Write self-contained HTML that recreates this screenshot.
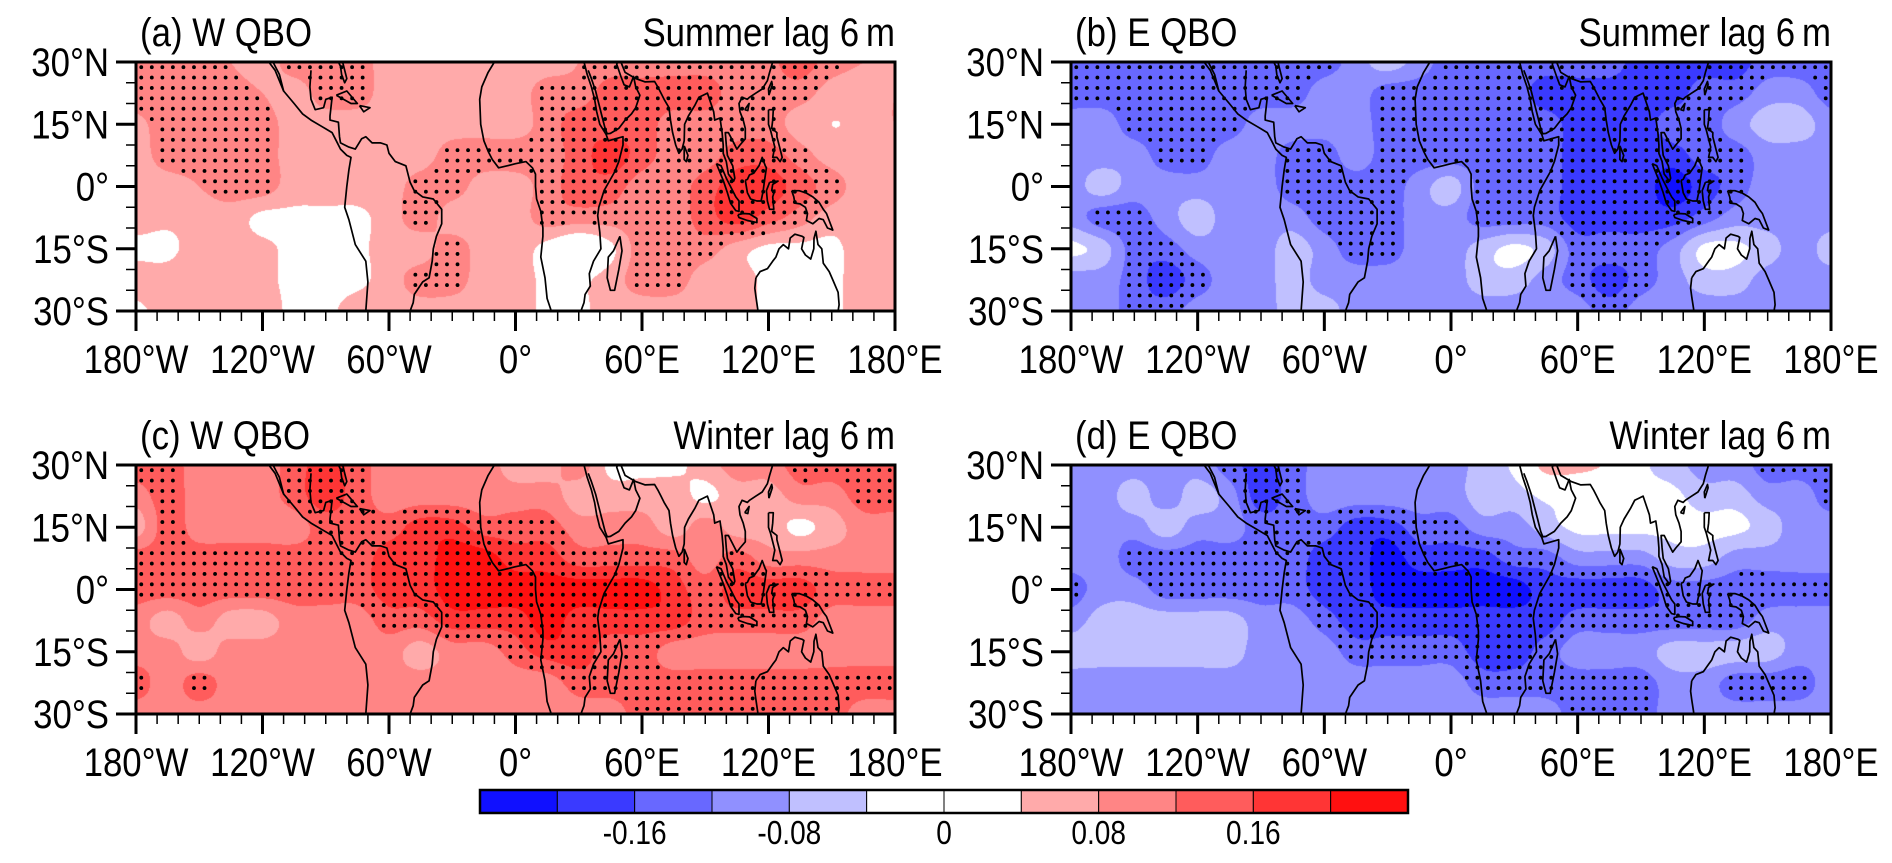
<!DOCTYPE html>
<html>
<head>
<meta charset="utf-8">
<style>
  html,body{margin:0;padding:0;background:#fff;}
  #wrap{position:relative;width:1892px;height:863px;overflow:hidden;font-family:"Liberation Sans",sans-serif;}
  canvas,svg{position:absolute;left:0;top:0;}
</style>
</head>
<body>
<div id="wrap">
<canvas id="cv" width="1892" height="863"></canvas>
<svg id="sv" width="1892" height="863" xmlns="http://www.w3.org/2000/svg"></svg>
</div>
<script>
// ---- colour levels ----
const levels = [-0.20,-0.16,-0.12,-0.08,-0.04,0,0.04,0.08,0.12,0.16,0.20];
const colors = ["#1010ff","#3a3aff","#6868ff","#9090ff","#c0c0ff","#ffffff","#ffffff","#ffaaaa","#ff8585","#ff5c5c","#ff3535","#ff1010"];
const cbarLabels = ["-0.16","-0.08","0","0.08","0.16"];
const cbarLabelBoundary = [2,4,6,8,10];

// ---- grid nodes ----
const lons = [-180,-165,-150,-135,-120,-105,-90,-75,-60,-45,-30,-15,0,15,30,45,60,75,90,105,120,135,150,165,180];
const lats = [30,22.5,15,7.5,0,-7.5,-15,-22.5,-30];

// ---- panel (a) W QBO summer ----
const dataA = [
 [.10,.10,.10,.08,.06,.10,.10,.10,.06,.06,.06,.06,.06,.06,.08,.10,.10,.10,.10,.10,.11,.14,.10,.08,.08],
 [.10,.10,.10,.10,.08,.06,.10,.10,.06,.06,.06,.06,.06,.10,.10,.14,.14,.14,.14,.10,.10,.10,.06,.06,.08],
 [.07,.10,.10,.10,.10,.06,.06,.06,.06,.06,.06,.06,.06,.10,.14,.14,.14,.10,.10,.10,.10,.06,.04,.05,.08],
 [.06,.10,.10,.10,.10,.06,.06,.06,.06,.06,.10,.10,.10,.10,.14,.18,.14,.10,.10,.14,.14,.10,.06,.06,.06],
 [.06,.06,.08,.10,.10,.06,.06,.06,.06,.10,.10,.06,.06,.10,.14,.14,.10,.10,.14,.18,.18,.14,.10,.06,.06],
 [.06,.05,.06,.06,.03,.03,.03,.03,.06,.10,.06,.06,.06,.10,.10,.10,.10,.10,.14,.18,.14,.10,.06,.06,.06],
 [.03,.03,.06,.06,.05,.03,.03,.03,.06,.06,.10,.06,.06,.025,-.01,.03,.10,.10,.10,.06,.03,.03,.03,.06,.06],
 [.06,.06,.08,.06,.05,.03,.025,.03,.06,.10,.10,.06,.06,.03,.03,.06,.10,.10,.06,.06,.03,.03,.03,.06,.06],
 [.03,.06,.06,.06,.06,.03,.03,.06,.06,.06,.06,.06,.06,.03,.03,.06,.06,.06,.06,.06,.03,.03,.03,.06,.06]
];
// ---- panel (b) E QBO summer ----
const dataB = [
 [-.14,-.14,-.14,-.14,-.14,-.14,-.14,-.14,-.14,-.10,-.06,-.10,-.14,-.14,-.14,-.14,-.14,-.14,-.18,-.18,-.18,-.18,-.14,-.14,-.14],
 [-.14,-.14,-.14,-.14,-.14,-.14,-.14,-.14,-.10,-.10,-.14,-.14,-.14,-.14,-.14,-.18,-.18,-.18,-.18,-.18,-.14,-.14,-.10,-.10,-.14],
 [-.10,-.10,-.14,-.14,-.14,-.14,-.10,-.10,-.10,-.10,-.14,-.14,-.14,-.14,-.14,-.14,-.18,-.18,-.18,-.14,-.14,-.10,-.06,-.06,-.10],
 [-.10,-.10,-.10,-.14,-.14,-.10,-.10,-.14,-.14,-.10,-.14,-.14,-.14,-.14,-.14,-.14,-.18,-.18,-.18,-.18,-.14,-.14,-.10,-.10,-.10],
 [-.10,-.06,-.10,-.10,-.10,-.10,-.10,-.14,-.14,-.14,-.14,-.10,-.06,-.14,-.14,-.14,-.18,-.18,-.18,-.22,-.18,-.14,-.10,-.10,-.10],
 [-.10,-.14,-.14,-.10,-.06,-.10,-.10,-.10,-.14,-.14,-.14,-.10,-.10,-.14,-.14,-.14,-.18,-.18,-.18,-.18,-.14,-.10,-.10,-.10,-.10],
 [-.03,-.06,-.14,-.14,-.10,-.10,-.10,-.06,-.10,-.14,-.14,-.10,-.10,-.06,-.03,-.06,-.14,-.14,-.14,-.10,-.03,-.03,-.06,-.10,-.06],
 [-.10,-.10,-.14,-.18,-.14,-.10,-.10,-.06,-.10,-.10,-.10,-.10,-.10,-.06,-.06,-.10,-.14,-.18,-.14,-.10,-.06,-.06,-.10,-.10,-.10],
 [-.10,-.10,-.14,-.14,-.10,-.10,-.10,-.06,-.06,-.10,-.10,-.10,-.10,-.10,-.10,-.10,-.10,-.14,-.10,-.10,-.10,-.10,-.10,-.10,-.10]
];
// ---- panel (c) W QBO winter ----
const dataC = [
 [.14,.14,.10,.10,.10,.14,.18,.14,.10,.10,.10,.10,.06,.06,.10,.03,.03,.03,.06,.10,.10,.14,.14,.14,.14],
 [.10,.14,.10,.10,.10,.14,.18,.14,.10,.10,.10,.10,.10,.10,.06,.06,.06,.06,.03,.06,.06,.10,.10,.14,.14],
 [.06,.14,.10,.10,.10,.10,.14,.14,.14,.18,.18,.14,.14,.14,.10,.10,.10,.06,.10,.06,.06,.03,.06,.10,.10],
 [.14,.14,.14,.14,.14,.14,.14,.14,.18,.18,.22,.22,.18,.18,.14,.14,.14,.14,.10,.14,.10,.10,.10,.10,.10],
 [.14,.14,.14,.14,.14,.14,.14,.14,.18,.18,.22,.22,.22,.22,.22,.22,.22,.18,.14,.18,.18,.18,.14,.14,.14],
 [.10,.06,.10,.06,.06,.10,.10,.10,.14,.14,.18,.18,.18,.22,.18,.18,.18,.18,.14,.14,.14,.14,.10,.10,.10],
 [.10,.10,.06,.10,.10,.10,.10,.10,.10,.06,.10,.10,.14,.18,.18,.14,.14,.10,.10,.10,.10,.10,.10,.10,.10],
 [.14,.10,.14,.10,.10,.10,.10,.10,.10,.10,.10,.10,.10,.10,.14,.14,.14,.14,.14,.14,.14,.14,.14,.14,.14],
 [.10,.10,.10,.10,.10,.10,.10,.10,.10,.10,.10,.10,.10,.10,.10,.10,.14,.14,.14,.14,.14,.14,.14,.10,.10]
];
// ---- panel (d) E QBO winter ----
const dataD = [
 [-.10,-.10,-.10,-.10,-.10,-.14,-.18,-.14,-.10,-.10,-.10,-.10,-.10,-.06,-.03,.06,.06,.03,-.03,-.06,-.10,-.10,-.14,-.14,-.14],
 [-.10,-.10,-.06,-.10,-.06,-.10,-.18,-.14,-.10,-.10,-.10,-.10,-.10,-.06,-.06,-.03,-.03,-.03,-.03,-.03,-.06,-.06,-.10,-.10,-.14],
 [-.10,-.10,-.10,-.06,-.10,-.10,-.14,-.14,-.14,-.18,-.18,-.14,-.14,-.10,-.10,-.06,-.03,-.03,-.03,-.03,-.03,-.03,-.06,-.10,-.10],
 [-.10,-.10,-.14,-.14,-.14,-.14,-.14,-.14,-.18,-.18,-.22,-.18,-.18,-.18,-.14,-.14,-.10,-.10,-.10,-.06,-.06,-.10,-.10,-.10,-.10],
 [-.14,-.10,-.10,-.14,-.14,-.14,-.14,-.14,-.18,-.18,-.22,-.22,-.22,-.22,-.22,-.18,-.18,-.18,-.18,-.14,-.14,-.14,-.14,-.14,-.14],
 [-.10,-.06,-.06,-.06,-.06,-.06,-.10,-.10,-.14,-.18,-.18,-.18,-.18,-.18,-.18,-.18,-.14,-.14,-.14,-.14,-.14,-.14,-.10,-.10,-.10],
 [-.06,-.06,-.06,-.06,-.06,-.06,-.10,-.10,-.10,-.14,-.14,-.14,-.14,-.18,-.18,-.14,-.10,-.10,-.10,-.06,-.06,-.06,-.06,-.10,-.10],
 [-.10,-.10,-.10,-.10,-.10,-.10,-.10,-.10,-.10,-.10,-.10,-.10,-.10,-.14,-.14,-.14,-.14,-.14,-.14,-.10,-.10,-.14,-.14,-.14,-.10],
 [-.10,-.10,-.10,-.10,-.10,-.10,-.10,-.10,-.10,-.10,-.10,-.10,-.10,-.10,-.10,-.10,-.14,-.14,-.14,-.10,-.10,-.10,-.10,-.10,-.10]
];
const panelLabels = ["(a) W QBO","(b) E QBO","(c) W QBO","(d) E QBO"];
const panelSeasons = ["Summer lag 6\u2009m","Summer lag 6\u2009m","Winter lag 6\u2009m","Winter lag 6\u2009m"];
const latTickLabels = ["30°N","15°N","0°","15°S","30°S"];
const latTickValues = [30,15,0,-15,-30];
const lonTickLabels = ["180°W","120°W","60°W","0°","60°E","120°E","180°E"];
const lonTickValues = [-180,-120,-60,0,60,120,180];

// ---- layout ----
const panels = [
  {x:136,y:62,w:759,h:249,data:dataA,thr:0.085,name:"a"},
  {x:1071,y:62,w:760,h:249,data:dataB,thr:0.125,name:"b"},
  {x:136,y:465,w:759,h:249,data:dataC,thr:0.125,name:"c"},
  {x:1071,y:465,w:760,h:249,data:dataD,thr:0.125,name:"d"}
];

// coastlines (lon,lat)
const coasts = [
 [[-117,30],[-114,28],[-110,23],[-105,20],[-101,17.5],[-97,16],[-92,14.5],[-87,13],[-85,11],[-83,9],[-80,7.5],[-78,7],[-79,4],[-80,0],[-81,-5],[-79,-8],[-76,-14],[-71,-18],[-70,-23],[-71,-30]],
 [[-115,30],[-112,27],[-110,23]],
 [[-97,28],[-97.5,24],[-97,21],[-95,18.5],[-91,19],[-90,21],[-87,21.5],[-88,17],[-88,16],[-84,15.5],[-83.5,12],[-83,10.5],[-79,9.5],[-76,9],[-73,11.5],[-71,12],[-68,10.5],[-64,10.5],[-61,10],[-60,8],[-57,6],[-52,5],[-50,1],[-48,-1],[-44,-2.5],[-39,-3],[-35,-5.5],[-35,-9],[-37.5,-12],[-39,-15],[-39.5,-18],[-41,-22],[-44,-23],[-48,-26],[-48.5,-28],[-50,-30]],
 [[-82,30],[-80,26],[-81,25],[-82.5,27],[-83,29],[-84,30]],
 [[-85,22],[-80,23],[-75,20],[-78,20],[-85,22]],
 [[-74,19.5],[-69,19],[-72,18],[-74,19.5]],
 [[-10,30],[-13,27.5],[-16,24],[-17,21],[-16.5,15],[-15,11],[-13,8.5],[-11,6.5],[-8,4.5],[-4,5],[0,5.5],[5,6],[8,4.5],[9.5,3],[9.5,0],[10,-3],[12,-6],[13,-10],[13,-12],[12,-17],[14,-22],[15,-27],[17,-30]],
 [[32.5,30],[34,27],[36,24],[37.5,21],[38.5,18],[40,15],[43,12.5],[44,11],[51,12],[51,10],[49,6],[47,3.5],[42,-1],[39.5,-5],[39,-7],[40,-11],[40.5,-15],[37,-18],[35,-21],[35.5,-24],[33,-26],[32.5,-28],[31,-30]],
 [[34.5,28],[36,26],[38,23],[39,21],[41,17],[42.5,14],[43.5,12.7],[45,12.8],[49,14],[52,16],[55,17.5],[57,19],[59,22],[57,24],[56,26.5],[54,24],[51.5,24.5],[50,26.5],[48,29.5],[48.5,30]],
 [[49.5,-12],[50.5,-15.5],[49,-20],[47,-25],[45,-25],[43.5,-22],[44,-17],[46.5,-15.5],[49.5,-12]],
 [[50,30],[52,27.5],[57,26],[61.5,25.2],[66,25.3],[67.5,24],[69,22.5],[70.5,21],[72.8,19],[73.5,16],[74.5,13],[76,10],[77.5,8],[79,9],[80,11],[80.2,15],[82,17],[85,19.5],[87,21.5],[89,22],[91,22.5],[92,21],[94,18],[94.5,16],[97,16.5],[98,13],[98.5,10],[98.5,8],[100,6],[101,3],[103.5,1.3],[104,2],[103,5],[102,6],[100.5,7.5],[100,10],[99.5,13],[101,13],[103,11],[105,9],[106.5,10],[109,11.5],[109,14],[108,16],[106.5,18],[106,20],[107.5,21.5],[110,21],[111,21.5],[114,22.5],[117,23.5],[119.5,25.5],[120.5,27.5],[122,30]],
 [[80,9.8],[81.8,7.5],[81,6],[80,6.5],[80,9.8]],
 [[95.3,5.5],[97.5,5],[100,2],[103,-1],[104.5,-2.5],[106,-3.5],[106,-6],[104.5,-5.8],[102,-4],[100.5,-1.5],[98.5,1.5],[95.3,5.5]],
 [[105.5,-6.8],[108,-6.5],[111,-6.6],[114.5,-7.7],[114.5,-8.7],[110,-8.2],[106,-7.5],[105.5,-6.8]],
 [[109,1.5],[110,1.7],[111,2.8],[113,3.2],[115.5,5],[117,7],[118.5,5],[119,4.5],[118,1],[117.5,-1],[116.5,-3.5],[114.5,-3.5],[111.5,-3],[110,-1.5],[109,1.5]],
 [[120,18.5],[122.3,18.5],[122,16],[121.5,14],[124,13],[124,12],[125.5,9],[126.5,7],[125.5,6],[124,7],[122,7],[123,9.5],[121,13.5],[120,15],[120,18.5]],
 [[120.5,1],[124.5,1.3],[122,0.5],[121.5,-1],[123,-0.9],[122,-2.5],[122.5,-5.5],[120.5,-5.5],[119.5,-3.5],[119,-1],[120.5,1]],
 [[131,-1],[134.5,-1],[138,-1.6],[141,-2.5],[144,-3.8],[146,-5.5],[147.5,-6.5],[150.5,-10.5],[148,-10],[146,-8],[144,-7.7],[141,-9],[138,-8.2],[138.5,-6.5],[137.5,-5],[135,-4.2],[132.5,-4],[132,-2.5],[131,-1]],
 [[114,-22],[116,-20.5],[119.5,-19.8],[122,-18],[123.5,-17],[125,-15],[127,-14],[129.5,-15],[130.3,-12.4],[132.5,-11.5],[136,-12],[136.8,-12.3],[135.7,-15],[137.5,-16.5],[140,-17.5],[141.5,-15],[141.6,-12.5],[142.5,-10.8],[143.5,-14],[145.3,-15],[146,-18.5],[148.8,-20.5],[150.5,-22.5],[153,-25.5],[153.5,-28.5],[153,-30]],
 [[114,-22],[113.5,-24.5],[114,-26.5],[114.9,-29.5],[115,-30]],
 [[120.2,22],[121.8,24.5],[121.5,25.3],[120,23.5],[120.2,22]],
 [[108.7,18.5],[110.8,20],[110.2,18.3],[108.7,18.5]]
];

const cv = document.getElementById('cv');
const ctx = cv.getContext('2d');
const svg = document.getElementById('sv');
const NS = "http://www.w3.org/2000/svg";

function el(tag, attrs, parent){
  const e = document.createElementNS(NS, tag);
  for (const k in attrs) e.setAttribute(k, attrs[k]);
  (parent||svg).appendChild(e);
  return e;
}
function txt(parent, x, y, s, size, anchor, sx){
  const t = el('text', {x:0, y:0, 'text-anchor':anchor, 'font-size':size, fill:'#000',
    transform:'translate('+x+','+y+') scale('+sx+',1)'}, parent);
  t.textContent = s;
  return t;
}
function colorFor(v){
  let i=0; while(i<levels.length && v>=levels[i]) i++;
  return colors[i];
}
function hex2rgb(h){return [parseInt(h.substr(1,2),16),parseInt(h.substr(3,2),16),parseInt(h.substr(5,2),16)];}
function cw(t){ // Catmull-Rom weights
  const t2=t*t, t3=t2*t;
  return [(-t3+2*t2-t)/2, (3*t3-5*t2+2)/2, (-3*t3+4*t2+t)/2, (t3-t2)/2];
}
function sample(data, lon, lat){
  let fi=(lon+180)/15, fj=(30-lat)/7.5;
  fi=Math.max(0,Math.min(lons.length-1.0001,fi));
  fj=Math.max(0,Math.min(lats.length-1.0001,fj));
  const i=Math.floor(fi), j=Math.floor(fj);
  const wx=cw(fi-i), wy=cw(fj-j);
  let s=0;
  for (let m=0;m<4;m++){
    const jj=Math.max(0,Math.min(lats.length-1,j-1+m));
    let r=0;
    for (let n=0;n<4;n++){
      const ii=Math.max(0,Math.min(lons.length-1,i-1+n));
      r+=wx[n]*data[jj][ii];
    }
    s+=wy[m]*r;
  }
  return s;
}

panels.forEach((p, pi) => {
  const xOf = lon => p.x + (lon+180)/360*p.w;
  const yOf = lat => p.y + (30-lat)/60*p.h;
  const img = ctx.createImageData(p.w, p.h);
  for (let py=0; py<p.h; py++){
    const lat = 30 - (py+0.5)/p.h*60;
    for (let px=0; px<p.w; px++){
      const lon = -180 + (px+0.5)/p.w*360;
      const c = hex2rgb(colorFor(sample(p.data, lon, lat)));
      const k=(py*p.w+px)*4;
      img.data[k]=c[0];img.data[k+1]=c[1];img.data[k+2]=c[2];img.data[k+3]=255;
    }
  }
  ctx.putImageData(img, p.x, p.y);

  const g = el('g', {});
  
  
  const cp = el('clipPath', {id:'clip'+pi}, g);
  el('rect', {x:p.x, y:p.y, width:p.w, height:p.h}, cp);

  const dots = el('g', {'clip-path':'url(#clip'+pi+')', fill:'#000'}, g);
  
  
  for (let lat=28.75; lat>-30; lat-=2.5){
    for (let lon=-177.5; lon<180; lon+=5){
      const v = sample(p.data, lon, lat);
      if (Math.abs(v) >= p.thr){
        el('circle', {cx:xOf(lon), cy:yOf(lat), r:1.9}, dots);
      }
    }
  }
  const cg = el('g', {'clip-path':'url(#clip'+pi+')', fill:'none', stroke:'#000', 'stroke-width':1.7, 'stroke-linejoin':'round'}, g);
  
  
  coasts.forEach(line => {
    const d = line.map((pt,k)=>(k?'L':'M')+xOf(pt[0]).toFixed(1)+','+yOf(pt[1]).toFixed(1)).join('');
    el('path', {d:d}, cg);
  });
  const fr = el('rect', {x:p.x, y:p.y, width:p.w, height:p.h, fill:'none', stroke:'#000', 'stroke-width':3}, g);
  
  
  for (let lat=30; lat>=-30; lat-=5){
    const major = lat%15===0;
    el('line', {x1:p.x, x2:p.x-(major?20:10), y1:yOf(lat), y2:yOf(lat), stroke:'#000', 'stroke-width':major?3:1.5}, g);
  }
  latTickValues.forEach((lat,k)=>{
    const t = txt(g, p.x-27, yOf(lat)+14, latTickLabels[k], 40, 'end', 0.87);
    
    
  });
  for (let lon=-180; lon<=180; lon+=10){
    const major = lon%60===0;
    el('line', {x1:xOf(lon), x2:xOf(lon), y1:p.y+p.h, y2:p.y+p.h+(major?20:10), stroke:'#000', 'stroke-width':major?3:1.5}, g);
  }
  lonTickValues.forEach((lon,k)=>{
    const t = txt(g, xOf(lon), p.y+p.h+62, lonTickLabels[k], 40, 'middle', 0.87);
    
    
  });
  const t1 = txt(g, p.x+4, p.y-16, panelLabels[pi], 40, 'start', 0.87);
  
  
  const t2 = txt(g, p.x+p.w, p.y-16, panelSeasons[pi], 40, 'end', 0.87);
  
  
});

// colorbar
const cb = el('g', {});


const cbX=480, cbW=928, cbY=790, cbH=23, bw=cbW/colors.length;
colors.forEach((c,k)=>{
  const r = el('rect', {x:cbX+k*bw, y:cbY, width:bw, height:cbH, fill:c, stroke:'#000', 'stroke-width':1}, cb);
  
  
});
el('rect', {x:cbX, y:cbY, width:cbW, height:cbH, fill:'none', stroke:'#000', 'stroke-width':2.5}, cb);
cbarLabels.forEach((s,k)=>{
  const t = txt(cb, cbX+cbarLabelBoundary[k]*bw, cbY+cbH+31, s, 33, 'middle', 0.85);
  
  
});
</script>
</body>
</html>
